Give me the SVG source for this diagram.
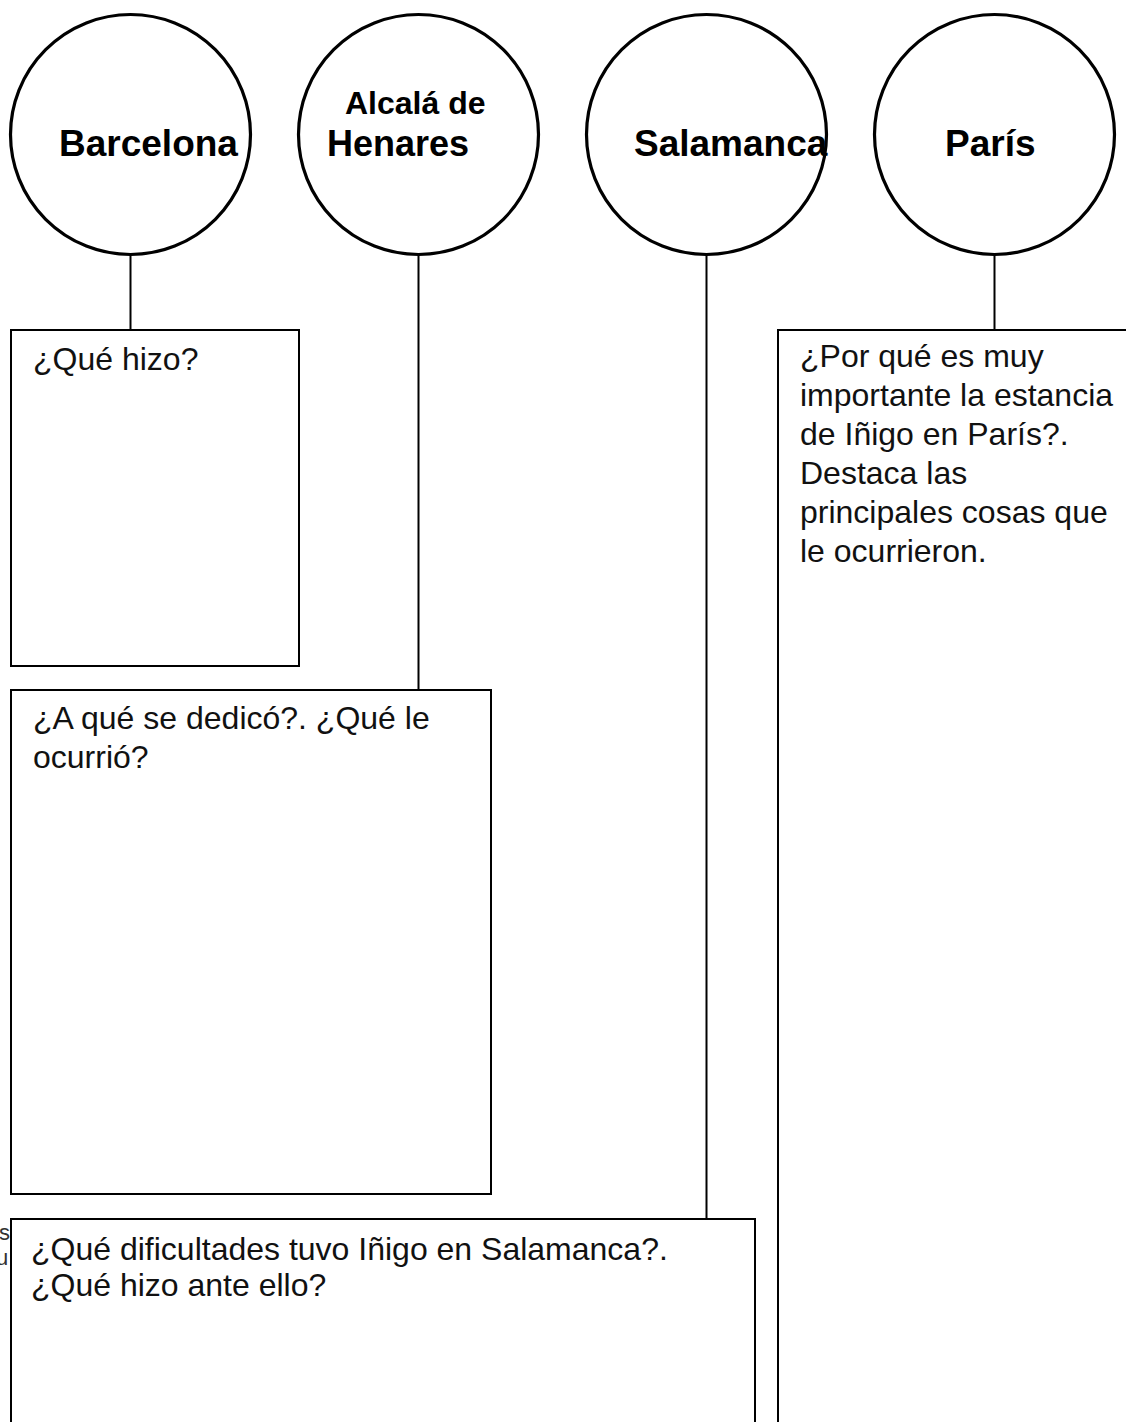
<svg xmlns="http://www.w3.org/2000/svg" width="1126" height="1422" viewBox="0 0 1126 1422">
<style>
  .city { fill: #ffffff; stroke: #000000; stroke-width: 3.2; }
  .box { fill: #ffffff; stroke: #000000; stroke-width: 2; }
  .conn { stroke: #000000; stroke-width: 2; fill: none; }
  .lbl { font-family: "Liberation Sans", Arial, sans-serif; font-weight: bold; font-size: 37px; fill: #000000; }
  .q { font-family: "Liberation Sans", Arial, sans-serif; font-size: 32px; fill: #111111; }
  .stray { font-family: "Liberation Sans", Arial, sans-serif; font-size: 22px; fill: #333333; }
</style>
<rect x="0" y="0" width="1126" height="1422" fill="#ffffff"/>
<g id="connectors">
  <line class="conn" x1="130.5" y1="255" x2="130.5" y2="330"/>
  <line class="conn" x1="418.5" y1="255" x2="418.5" y2="690"/>
  <line class="conn" x1="706.5" y1="255" x2="706.5" y2="1219"/>
  <line class="conn" x1="994.5" y1="255" x2="994.5" y2="330"/>
</g>
<g id="stray-text">
  <text class="stray" x="-1" y="1240">s</text>
  <text class="stray" x="-4" y="1265">u</text>
</g>
<g id="node-barcelona">
  <circle class="city" cx="130.5" cy="134.5" r="120"/>
  <text class="lbl" x="59" y="156">Barcelona</text>
</g>
<g id="node-alcala">
  <circle class="city" cx="418.5" cy="134.5" r="120"/>
  <text class="lbl" x="345" y="114" style="font-size:32px">Alcalá de</text>
  <text class="lbl" x="327" y="156" style="font-size:36px">Henares</text>
</g>
<g id="node-salamanca">
  <circle class="city" cx="706.5" cy="134.5" r="120"/>
  <text class="lbl" x="634" y="156">Salamanca</text>
</g>
<g id="node-paris">
  <circle class="city" cx="994.5" cy="134.5" r="120"/>
  <text class="lbl" x="945" y="156">París</text>
</g>
<g id="box-barcelona">
  <rect class="box" x="11" y="330" width="288" height="336"/>
  <text class="q" x="33" y="370">¿Qué hizo?</text>
</g>
<g id="box-alcala">
  <rect class="box" x="11" y="690" width="480" height="504"/>
  <text class="q" x="33" y="729">¿A qué se dedicó?. ¿Qué le</text>
  <text class="q" x="33" y="768">ocurrió?</text>
</g>
<g id="box-salamanca">
  <rect class="box" x="11" y="1219" width="744" height="300"/>
  <text class="q" x="31" y="1260">¿Qué dificultades tuvo Iñigo en Salamanca?.</text>
  <text class="q" x="31" y="1296">¿Qué hizo ante ello?</text>
</g>
<g id="box-paris">
  <rect class="box" x="778" y="330" width="400" height="1200"/>
  <text class="q" x="800" y="367">¿Por qué es muy</text>
  <text class="q" x="800" y="406">importante la estancia</text>
  <text class="q" x="800" y="445">de Iñigo en París?.</text>
  <text class="q" x="800" y="484">Destaca las</text>
  <text class="q" x="800" y="523">principales cosas que</text>
  <text class="q" x="800" y="562">le ocurrieron.</text>
</g>
</svg>
